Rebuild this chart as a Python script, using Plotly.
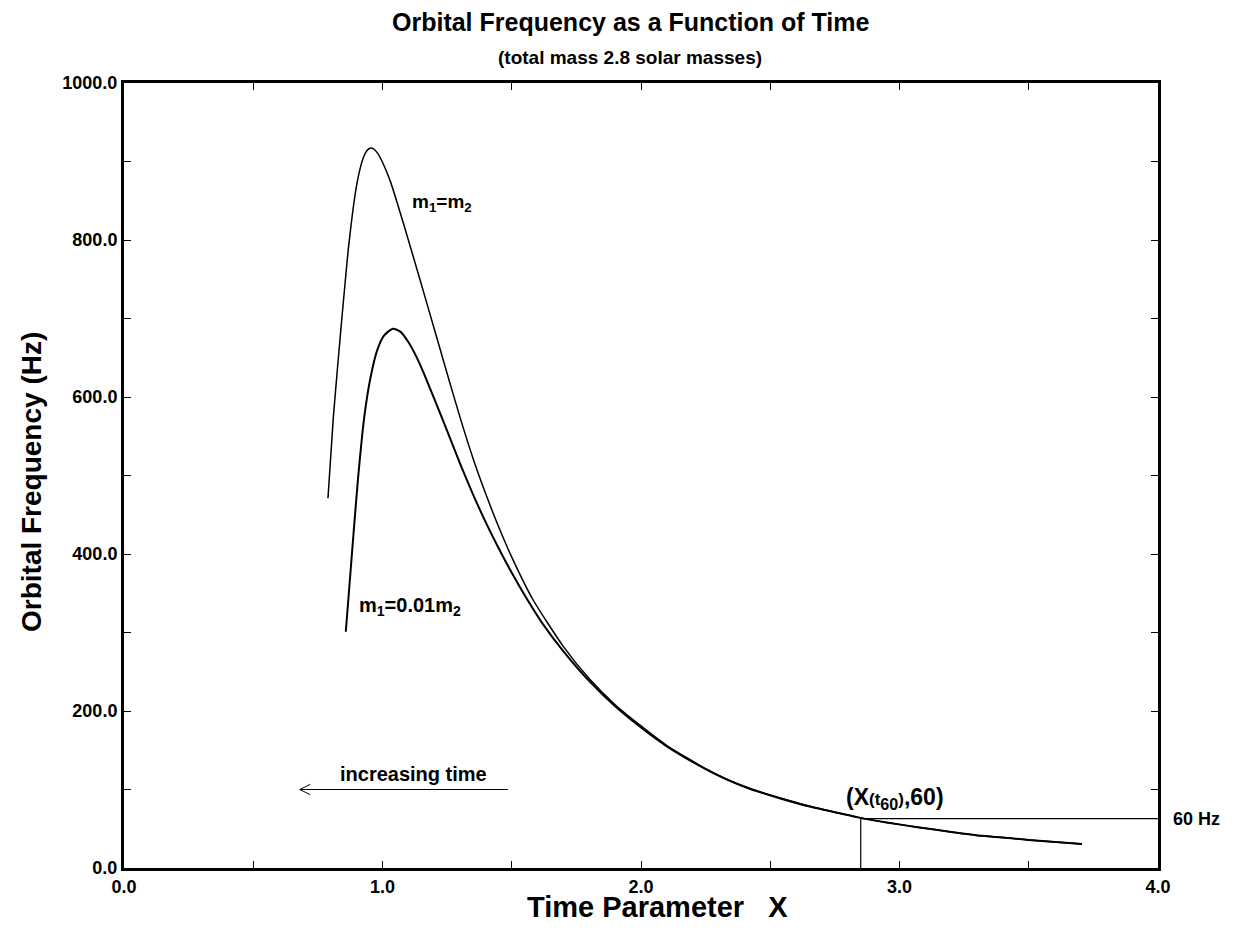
import plotly.graph_objects as go

# m1 = m2 curve
x_equal = [0.789, 0.81, 0.84, 0.87, 0.90, 0.925, 0.94, 0.952, 0.965, 0.98, 1.00, 1.03, 1.06,
           1.10, 1.15, 1.20, 1.25, 1.30, 1.35, 1.40, 1.45, 1.50, 1.58, 1.70, 1.80, 1.90,
           2.00, 2.10, 2.25, 2.33, 2.42, 2.52, 2.62, 2.73, 2.84, 2.95, 3.07, 3.20, 3.32,
           3.50, 3.706]
f_equal = [471, 575, 690, 795, 870, 904, 914, 917, 916, 911, 899, 875, 844,
           800, 744, 687, 630, 574, 522, 476, 434, 396, 343, 282, 241, 208,
           181, 156, 126.5, 113.5, 101.5, 91, 81.5, 72.5, 64.5, 58, 52, 46, 41,
           35.8, 30.5]

# m1 = 0.01 m2 curve
x_small = [0.858, 0.88, 0.905, 0.93, 0.955, 0.98, 1.005, 1.04, 1.07, 1.10, 1.13, 1.16, 1.20,
           1.25, 1.30, 1.35, 1.40, 1.45, 1.50, 1.56, 1.62, 1.70, 1.80, 1.90, 2.00, 2.10,
           2.25, 2.33, 2.42, 2.52, 2.62, 2.73, 2.84, 2.95, 3.07, 3.20, 3.32, 3.50, 3.706]
f_small = [301, 393, 495, 576, 627, 660, 678, 687, 683, 670, 652, 630, 598,
           557, 515, 476, 440, 407, 376, 342, 311, 276, 238, 206, 179, 155,
           126, 113, 101, 90.5, 81, 72.5, 64.5, 58, 52, 46, 41, 35.8, 30.5]

# 60 Hz crossing
x_t60 = 2.85
f_60 = 63

x_tickvals = [0, 0.5, 1, 1.5, 2, 2.5, 3, 3.5, 4]
x_ticktext = ["0.0", "", "1.0", "", "2.0", "", "3.0", "", "4.0"]
y_tickvals = [0, 100, 200, 300, 400, 500, 600, 700, 800, 900, 1000]
y_ticktext = ["0.0", "", "200.0", "", "400.0", "", "600.0", "", "800.0", "", "1000.0"]

FONT = "Liberation Sans, Arial, Helvetica, sans-serif"

fig = go.Figure()
fig.add_trace(go.Scatter(x=x_equal, y=f_equal, mode="lines",
                         line=dict(color="black", width=1.5, shape="spline", smoothing=0.6),
                         showlegend=False, hoverinfo="skip"))
fig.add_trace(go.Scatter(x=x_small, y=f_small, mode="lines",
                         line=dict(color="black", width=2, shape="spline", smoothing=0.6),
                         showlegend=False, hoverinfo="skip"))
# 60 Hz marker lines
fig.add_trace(go.Scatter(x=[x_t60, x_t60, 4], y=[0, f_60, f_60], mode="lines",
                         line=dict(color="black", width=1.2),
                         showlegend=False, hoverinfo="skip"))

# increasing-time arrow
arrow_x0, arrow_x1, arrow_y = 1.485, 0.68, 100
fig.add_shape(type="line", x0=arrow_x0, x1=arrow_x1, y0=arrow_y, y1=arrow_y,
              line=dict(color="black", width=1))
fig.add_shape(type="line", x0=arrow_x1, x1=arrow_x1 + 0.04, y0=arrow_y, y1=arrow_y + 6.5,
              line=dict(color="black", width=1))
fig.add_shape(type="line", x0=arrow_x1, x1=arrow_x1 + 0.04, y0=arrow_y, y1=arrow_y - 6.5,
              line=dict(color="black", width=1))

L, R, T, B = 124, 80, 83, 60
W, H = 1238, 928
pw, ph = W - L - R, H - T - B


def px_x(px):
    return (px - L) / pw


def px_y(py):
    return (H - B - py) / ph


ann = []
ann.append(dict(x=1.106, y=847, xref="x", yref="y", xanchor="left", yanchor="middle",
                text="m<sub>1</sub>=m<sub>2</sub>", font_size=19))
ann.append(dict(x=0.9, y=333, xref="x", yref="y", xanchor="left", yanchor="middle",
                text="m<sub>1</sub>=0.01m<sub>2</sub>", font_size=20))
ann.append(dict(x=1.12, y=120, xref="x", yref="y", xanchor="center", yanchor="middle",
                text="increasing time", font_size=20))
ann.append(dict(x=2.785, y=89, xref="x", yref="y", xanchor="left", yanchor="middle",
                text="(X<span style='font-size:17px'>(t</span><sub>60</sub>"
                     "<span style='font-size:17px'>)</span>,60)", font_size=23))
ann.append(dict(x=px_x(1171), y=f_60, xref="paper", yref="y", xanchor="left",
                yanchor="middle", text="60 Hz", font_size=18))
# titles
ann.append(dict(x=px_x(631), y=px_y(22), xref="paper", yref="paper", xanchor="center",
                yanchor="middle", text="Orbital Frequency as a Function of Time", font_size=25))
ann.append(dict(x=px_x(630), y=px_y(57), xref="paper", yref="paper", xanchor="center",
                yanchor="middle", text="(total mass 2.8 solar masses)", font_size=19))
ann.append(dict(x=px_x(657), y=px_y(907), xref="paper", yref="paper", xanchor="center",
                yanchor="middle", text="Time Parameter   X", font_size=29))
ann.append(dict(x=px_x(31), y=px_y(482), xref="paper", yref="paper", xanchor="center",
                yanchor="middle", text="Orbital Frequency (Hz)", textangle=-90, font_size=28))

for a in ann:
    size = a.pop("font_size")
    fig.add_annotation(showarrow=False,
                       font=dict(size=size, family=FONT, color="black", weight="bold"), **a)

axis_common = dict(showgrid=False, zeroline=False, showline=True, linecolor="black",
                   linewidth=3, mirror="allticks", ticks="inside", ticklen=7, tickwidth=1,
                   tickcolor="black",
                   tickfont=dict(size=18, family=FONT, color="black", weight="bold"))
fig.update_xaxes(range=[0, 4], tickvals=x_tickvals, ticktext=x_ticktext, **axis_common)
fig.update_yaxes(range=[0, 1000], tickvals=y_tickvals, ticktext=y_ticktext, **axis_common)

fig.update_layout(width=W, height=H, margin=dict(l=L, r=R, t=T, b=B),
                  plot_bgcolor="white", paper_bgcolor="white", showlegend=False,
                  font=dict(family=FONT, color="black"))

fig.write_html("out.html")
